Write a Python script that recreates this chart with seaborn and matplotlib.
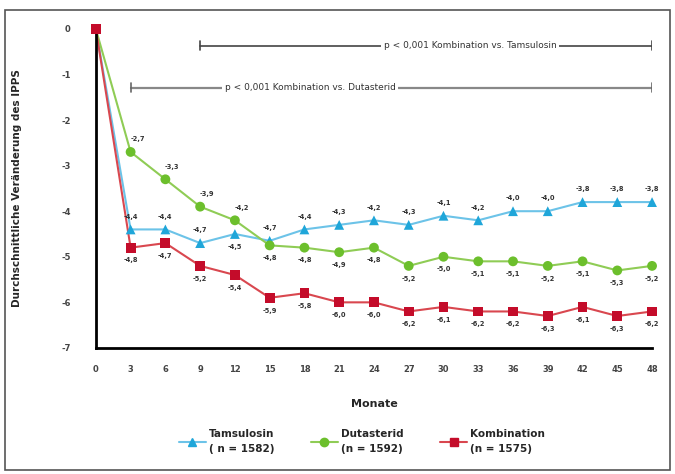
# IPSS-Veraenderung ueber 48 Monate (CombAT-Stil)

import numpy as np
import pandas as pd
import seaborn as sns
import matplotlib.pyplot as plt
from matplotlib.lines import Line2D
from matplotlib.patches import Rectangle

monate = [0, 3, 6, 9, 12, 15, 18, 21, 24, 27, 30, 33, 36, 39, 42, 45, 48]
tamsulosin = [0, -4.4, -4.4, -4.7, -4.5, -4.65, -4.4, -4.3, -4.2, -4.3, -4.1, -4.2, -4.0, -4.0, -3.8, -3.8, -3.8]
dutasterid = [0, -2.7, -3.3, -3.9, -4.2, -4.75, -4.8, -4.9, -4.8, -5.2, -5.0, -5.1, -5.1, -5.2, -5.1, -5.3, -5.2]
kombination = [0, -4.8, -4.7, -5.2, -5.4, -5.9, -5.8, -6.0, -6.0, -6.2, -6.1, -6.2, -6.2, -6.3, -6.1, -6.3, -6.2]
namen = ['Tamsulosin', 'Dutasterid', 'Kombination']
legende = ['Tamsulosin\n( n = 1582)', 'Dutasterid\n(n = 1592)', 'Kombination\n(n = 1575)']
y_ticks = [0, -1, -2, -3, -4, -5, -6, -7]

linien_farbe = {'Tamsulosin': '#6cc3e8', 'Dutasterid': '#8fcc55', 'Kombination': '#d9474f'}
punkt_farbe = {'Tamsulosin': '#1fa6d9', 'Dutasterid': '#6cbf2c', 'Kombination': '#c40c2a'}
marker = {'Tamsulosin': '^', 'Dutasterid': 'o', 'Kombination': 's'}

df = pd.DataFrame({
    'Monate': monate * 3,
    'Wert': tamsulosin + dutasterid + kombination,
    'Gruppe': [n for n in namen for _ in monate],
})

sns.set_style('white')
plt.rcParams['font.family'] = ['DejaVu Sans']

fig = plt.figure(figsize=(6.75, 4.74), dpi=100)
ax = fig.add_axes([0.142, 0.266, 0.824, 0.673])

sns.lineplot(data=df, x='Monate', y='Wert', hue='Gruppe', palette=linien_farbe,
             linewidth=1.5, legend=False, ax=ax, zorder=2)
for n in namen:
    sub = df[df.Gruppe == n]
    sns.scatterplot(data=sub, x='Monate', y='Wert', color=punkt_farbe[n], marker=marker[n],
                    s=50, edgecolor='none', legend=False, ax=ax, zorder=3, clip_on=False)

# Datenbeschriftungen
def fmt(v):
    return ('%.1f' % v).replace('.', ',')

def label(m, v, dx, dy):
    ax.annotate(fmt(v), (m, v), xytext=(dx, dy), textcoords='offset points',
                ha='center', va='bottom' if dy > 0 else 'top',
                fontsize=4.8, color='#333333', fontweight='bold')

for m, v in zip(monate[1:], tamsulosin[1:]):
    if m == 12:
        label(m, v, 0, -7)
    else:
        label(m, v, 0, 7)
for m, v in zip(monate[1:], dutasterid[1:]):
    if m <= 12:
        label(m, v, 5, 7)
    else:
        label(m, v, 0, -7)
for m, v in zip(monate[1:], kombination[1:]):
    label(m, v, 0, -7)

# Signifikanz-Klammern
ax.plot([9, 48], [-0.37, -0.37], color='#444444', lw=1.2, zorder=1)
ax.plot([9, 9], [-0.27, -0.47], color='#444444', lw=1.2)
ax.plot([48, 48], [-0.27, -0.47], color='#444444', lw=1.2)
ax.text(32.3, -0.37, 'p < 0,001 Kombination vs. Tamsulosin', ha='center', va='center',
        fontsize=6.5, color='#333333', bbox=dict(facecolor='white', edgecolor='none', pad=2))
ax.plot([3, 48], [-1.29, -1.29], color='#888888', lw=1.6, zorder=1)
ax.plot([3, 3], [-1.19, -1.39], color='#666666', lw=1.2)
ax.plot([48, 48], [-1.19, -1.39], color='#666666', lw=1.2)
ax.text(18.5, -1.29, 'p < 0,001 Kombination vs. Dutasterid', ha='center', va='center',
        fontsize=6.5, color='#333333', bbox=dict(facecolor='white', edgecolor='none', pad=2))

ax.set_xlim(0, 48)
ax.set_ylim(-7, 0)
ax.set_xticks(monate)
ax.set_yticks(y_ticks)
ax.set_yticklabels([str(t) for t in y_ticks])
ax.tick_params(axis='both', direction='out', length=4, width=1.5, labelsize=6,
               colors='black', labelcolor='#444444')
ax.tick_params(axis='y', pad=14)
ax.tick_params(axis='x', pad=8)
for lab in ax.get_xticklabels() + ax.get_yticklabels():
    lab.set_fontweight('bold')
ax.set_xlabel('Monate', fontsize=8, fontweight='bold', labelpad=18)
ax.set_ylabel('Durchschnittliche Veränderung des IPPS', fontsize=7.5, fontweight='bold', labelpad=28)
sns.despine(ax=ax)
for s in ['left', 'bottom']:
    ax.spines[s].set_linewidth(2)
    ax.spines[s].set_color('black')

handles = [Line2D([0], [0], color=linien_farbe[n], lw=1.5, marker=marker[n],
                  markerfacecolor=punkt_farbe[n], markeredgecolor=punkt_farbe[n], markersize=6)
           for n in namen]
fig.legend(handles, legende, loc='center', bbox_to_anchor=(0.536, 0.068), ncol=3,
           frameon=False, fontsize=7.5, handlelength=2.6, columnspacing=3.5, handletextpad=0.3,
           prop={'weight': 'bold', 'size': 7.5})
for t in fig.legends[0].get_texts():
    t.set_linespacing(1.6)

fig.patches.append(Rectangle((0.007, 0.008), 0.986, 0.97, transform=fig.transFigure,
                             fill=False, edgecolor='#555555', lw=1.2))

fig.savefig('out.png', dpi=100)
